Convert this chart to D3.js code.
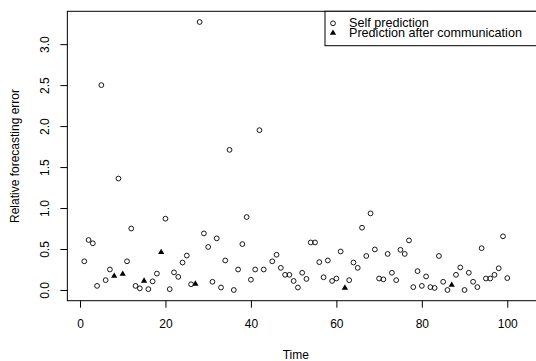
<!DOCTYPE html>
<html>
<head>
<meta charset="utf-8">
<script src="https://cdn.jsdelivr.net/npm/d3@7"></script>
<style>
  body { margin: 0; background: #fff; }
  svg { display: block; font-family: "Liberation Sans", Arial, sans-serif; }
</style>
</head>
<body>
<svg width="536" height="361"></svg>
<script>
// self prediction, one per time step (44 has no value)
const selfTime = [1,2,3,4,5,6,7,9,11,12,13,14,16,17,18,20,21,22,23,24,25,26,28,29,30,
  31,32,33,34,35,36,37,38,39,40,41,42,43,45,46,47,48,49,50,51,52,53,54,55,56,57,58,59,60,
  61,63,64,65,66,67,68,69,70,71,72,73,74,75,76,77,78,79,80,81,82,83,84,85,86,
  88,89,90,91,92,93,94,95,96,97,98,99,100]
const selfValue = [0.35,0.61,0.57,0.05,2.50,0.12,0.25,1.36,0.35,0.75,0.05,0.02,0.01,0.105,0.20,0.87,0.01,0.215,0.16,0.335,0.42,0.07,3.27,0.69,0.525,
  0.10,0.63,0.03,0.36,1.71,0.00,0.25,0.56,0.89,0.125,0.25,1.95,0.25,0.35,0.43,0.27,0.185,0.185,0.11,0.03,0.21,0.135,0.58,0.58,0.34,0.155,0.36,0.11,0.14,
  0.47,0.12,0.335,0.27,0.76,0.415,0.935,0.495,0.14,0.13,0.44,0.21,0.12,0.49,0.44,0.605,0.035,0.23,0.05,0.165,0.035,0.025,0.415,0.10,0.00,
  0.185,0.275,0.00,0.21,0.10,0.035,0.51,0.14,0.14,0.185,0.265,0.655,0.145]

// prediction after communication
const commTime = [8,10,15,19,27,62,87]
const commValue = [0.17,0.195,0.11,0.46,0.075,0.025,0.06]

const xTicks = [0,20,40,60,80,100]
const yTicks = [0,0.5,1,1.5,2,2.5,3]
const legendLabels = ["Self prediction", "Prediction after communication"]

const svg = d3.select("svg")
const pLeft = 67.35, pRight = 524.2, pTop = 11.3, pBottom = 300.7
const boxRight = 538 // frame runs off the right edge in the original

// R style 4% padding on both axes
function padded(ext) {
	const d = (ext[1] - ext[0]) * 0.04
	return [ext[0] - d, ext[1] + d]
}
const x = d3.scaleLinear()
	.domain(padded(d3.extent(selfTime.concat(commTime))))
	.range([pLeft, pRight])
const y = d3.scaleLinear()
	.domain(padded(d3.extent(selfValue.concat(commValue))))
	.range([pBottom, pTop])

svg.append("rect")
	.attr("x", pLeft).attr("y", pTop)
	.attr("width", boxRight - pLeft).attr("height", pBottom - pTop)
	.attr("fill", "none").attr("stroke", "#000").attr("stroke-width", 1)

const xAxis = svg.append("g")
	.attr("transform", `translate(0,${pBottom})`)
	.call(d3.axisBottom(x).tickValues(xTicks).tickSize(7).tickPadding(12).tickFormat(d3.format("d")))
xAxis.select(".domain").remove()
xAxis.selectAll("text").attr("font-size", 12).attr("font-family", null).attr("fill", "#000")

const yAxis = svg.append("g")
	.attr("transform", `translate(${pLeft},0)`)
	.call(d3.axisLeft(y).tickValues(yTicks).tickSize(7).tickFormat(d3.format(".1f")))
yAxis.select(".domain").remove()
yAxis.selectAll("text")
	.attr("font-size", 12).attr("font-family", null).attr("fill", "#000")
	.attr("x", null).attr("dy", null)
	.attr("text-anchor", "middle")
	.attr("transform", "translate(-18,0) rotate(-90)")

svg.append("text")
	.attr("x", (pLeft + pRight) / 2).attr("y", 359)
	.attr("text-anchor", "middle").attr("font-size", 12)
	.text("Time")
svg.append("text")
	.attr("transform", `translate(19,${(pTop + pBottom) / 2}) rotate(-90)`)
	.attr("text-anchor", "middle").attr("font-size", 12)
	.text("Relative forecasting error")

const selfData = selfTime.map((t, i) => ({ t: t, v: selfValue[i] }))
const commData = commTime.map((t, i) => ({ t: t, v: commValue[i] }))

svg.append("g").selectAll("circle")
	.data(selfData)
	.enter()
	.append("circle")
	.attr("cx", d => x(d.t))
	.attr("cy", d => y(d.v))
	.attr("r", 2.4)
	.attr("fill", "none")
	.attr("stroke", "#000")
	.attr("stroke-width", 0.9)

const tri = d3.symbol().type(d3.symbolTriangle).size(17)
svg.append("g").selectAll("path")
	.data(commData)
	.enter()
	.append("path")
	.attr("d", tri)
	.attr("transform", d => `translate(${x(d.t)},${y(d.v)})`)
	.attr("fill", "#000")

// legend, top right
const lg = svg.append("g")
lg.append("rect")
	.attr("x", 325).attr("y", pTop)
	.attr("width", boxRight - 325).attr("height", 45.7 - pTop)
	.attr("fill", "#fff").attr("stroke", "#000")
lg.append("circle")
	.attr("cx", 333).attr("cy", 23.3).attr("r", 2.4)
	.attr("fill", "none").attr("stroke", "#000").attr("stroke-width", 0.9)
lg.append("path")
	.attr("d", tri)
	.attr("transform", "translate(333,33)")
	.attr("fill", "#000")
lg.selectAll("text")
	.data(legendLabels)
	.enter()
	.append("text")
	.attr("x", 349)
	.attr("y", (d, i) => 27.3 + i * 9.6)
	.attr("font-size", 12.6)
	.text(d => d)
</script>
</body>
</html>
